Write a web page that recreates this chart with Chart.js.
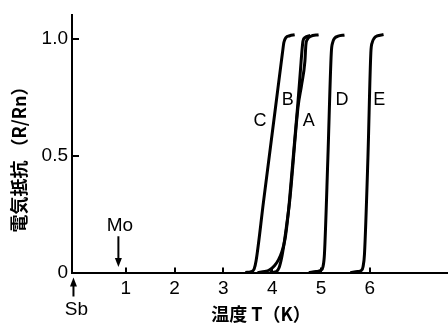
<!DOCTYPE html>
<html>
<head>
<meta charset="utf-8">
<script src="https://cdn.jsdelivr.net/npm/chart.js@4.4.1/dist/chart.umd.min.js"></script>
<style>
  html, body { margin: 0; padding: 0; background: #fff; }
  #wrap { width: 448px; height: 325px; }
</style>
</head>
<body>
<div id="wrap"><canvas id="tcChart" width="448" height="325"></canvas></div>
<script>
// temperature T (K) and resistance ratio R/Rn
const cT = [3.45, 3.57, 3.63, 3.67, 3.82, 4.07, 4.21, 4.24, 4.28, 4.36, 4.46];
const cR = [0, 0.004, 0.015, 0.05, 0.30, 0.71, 0.94, 0.985, 1.005, 1.013, 1.017];

const bT = [3.70, 3.85, 3.95, 4.05, 4.13, 4.20, 4.26, 4.30, 4.35, 4.52, 4.58, 4.61, 4.63, 4.67, 4.78];
const bR = [0, 0.004, 0.012, 0.03, 0.055, 0.09, 0.14, 0.20, 0.30, 0.71, 0.87, 0.95, 0.99, 1.005, 1.014];

const aT = [3.95, 4.08, 4.14, 4.19, 4.24, 4.30, 4.36, 4.53, 4.60, 4.67, 4.69, 4.72, 4.78, 4.95];
const aR = [0, 0.003, 0.02, 0.06, 0.12, 0.21, 0.31, 0.71, 0.80, 0.904, 0.975, 0.997, 1.01, 1.017];

const dT = [4.75, 4.90, 5.00, 5.04, 5.07, 5.14, 5.21, 5.24, 5.28, 5.35, 5.48];
const dR = [0, 0.004, 0.01, 0.025, 0.08, 0.49, 0.94, 0.985, 1.003, 1.011, 1.016];

const eT = [5.60, 5.75, 5.83, 5.86, 5.89, 5.96, 6.02, 6.05, 6.09, 6.15, 6.28];
const eR = [0, 0.004, 0.01, 0.025, 0.08, 0.49, 0.94, 0.985, 1.003, 1.012, 1.018];

const xTicks = [1, 2, 3, 4, 5, 6];
const yTicks = [0, 0.5, 1.0];
const yTickLabels = ['0', '0.5', '1.0'];

const xTitle = '温度 T（K）';
const yTitle = '電気抵抗 （R/Rn）';

// annotation anchors (data units)
const curveLabels = [
  { text: 'C', t: 3.75, r: 0.646 },
  { text: 'B', t: 4.32, r: 0.738 },
  { text: 'A', t: 4.75, r: 0.646 },
  { text: 'D', t: 5.43, r: 0.738 },
  { text: 'E', t: 6.19, r: 0.738 }
];
const moMark = { text: 'Mo', t: 0.85, labelR: 0.20, tailR: 0.155, tipR: 0.024 };
const sbMark = { text: 'Sb', t: -0.07 };

function toPoints(ts, rs) {
  return ts.map((t, i) => ({ x: t, y: rs[i] }));
}

function curve(ts, rs) {
  return {
    data: toPoints(ts, rs),
    showLine: true,
    borderColor: '#000',
    borderWidth: 3,
    pointRadius: 0,
    cubicInterpolationMode: 'monotone',
    fill: false
  };
}

function arrow(ctx, x, y1, y2) {
  // y2 is the tip
  const dir = y2 > y1 ? 1 : -1;
  ctx.beginPath();
  ctx.moveTo(x, y1);
  ctx.lineTo(x, y2 - dir * 6);
  ctx.lineWidth = 2;
  ctx.strokeStyle = '#000';
  ctx.stroke();
  ctx.beginPath();
  ctx.moveTo(x, y2);
  ctx.lineTo(x - 3.5, y2 - dir * 9);
  ctx.lineTo(x + 3.5, y2 - dir * 9);
  ctx.closePath();
  ctx.fillStyle = '#000';
  ctx.fill();
}

const extras = {
  id: 'extras',
  afterDraw(chart) {
    const ctx = chart.ctx;
    const xs = chart.scales.x;
    const ys = chart.scales.y;
    const area = chart.chartArea;
    ctx.save();

    // inward tick marks
    ctx.strokeStyle = '#000';
    ctx.lineWidth = 2;
    xTicks.forEach(v => {
      const px = Math.round(xs.getPixelForValue(v));
      ctx.beginPath();
      ctx.moveTo(px, area.bottom);
      ctx.lineTo(px, area.bottom - 5);
      ctx.stroke();
    });
    yTicks.forEach(v => {
      const py = Math.round(ys.getPixelForValue(v));
      ctx.beginPath();
      ctx.moveTo(area.left, py);
      ctx.lineTo(area.left + 7, py);
      ctx.stroke();
    });

    // curve letters
    ctx.fillStyle = '#000';
    ctx.textAlign = 'center';
    ctx.textBaseline = 'middle';
    ctx.font = '18px "Liberation Sans", Arial, sans-serif';
    curveLabels.forEach(l => {
      ctx.fillText(l.text, xs.getPixelForValue(l.t), ys.getPixelForValue(l.r));
    });

    // Mo arrow
    const mx = xs.getPixelForValue(moMark.t);
    ctx.font = '19px "Liberation Sans", Arial, sans-serif';
    ctx.fillText(moMark.text, mx + 1.5, ys.getPixelForValue(moMark.labelR));
    arrow(ctx, mx, ys.getPixelForValue(moMark.tailR), ys.getPixelForValue(moMark.tipR));

    // Sb arrow below the axis
    const sx = xs.getPixelForValue(sbMark.t);
    arrow(ctx, sx, area.bottom + 24, area.bottom + 5);
    ctx.fillText(sbMark.text, sx + 3, area.bottom + 37);

    // axis titles
    ctx.font = 'bold 18px "Noto Sans CJK JP", sans-serif';
    ctx.fillText(xTitle, 261, 314);
    ctx.translate(19, 155);
    ctx.rotate(-Math.PI / 2);
    ctx.fillText(yTitle, 0, 0);

    ctx.restore();
  }
};

const tickFont = { family: '"Liberation Sans", Arial, sans-serif', size: 19 };

new Chart(document.getElementById('tcChart').getContext('2d'), {
  type: 'scatter',
  data: {
    datasets: [curve(cT, cR), curve(bT, bR), curve(aT, aR), curve(dT, dR), curve(eT, eR)]
  },
  options: {
    responsive: false,
    animation: false,
    layout: { padding: { top: 6, right: 0, left: 0, bottom: 0 } },
    plugins: {
      legend: { display: false },
      tooltip: { enabled: false }
    },
    scales: {
      x: {
        type: 'linear',
        min: -0.1,
        max: 7.6,
        afterBuildTicks: s => { s.ticks = xTicks.map(v => ({ value: v })); },
        afterFit: s => { s.height = 52.5; },
        grid: { display: false, drawTicks: false },
        border: { display: true, color: '#000', width: 2 },
        ticks: { color: '#000', font: tickFont, padding: 5, maxRotation: 0 }
      },
      y: {
        type: 'linear',
        min: 0,
        max: 1.1,
        afterBuildTicks: s => { s.ticks = yTicks.map(v => ({ value: v })); },
        afterFit: s => { s.width = 72; },
        grid: { display: false, drawTicks: false },
        border: { display: true, color: '#000', width: 2 },
        ticks: {
          color: '#000',
          font: tickFont,
          padding: 4,
          callback: (v) => yTickLabels[yTicks.indexOf(v)]
        }
      }
    }
  },
  plugins: [extras]
});
</script>
</body>
</html>
